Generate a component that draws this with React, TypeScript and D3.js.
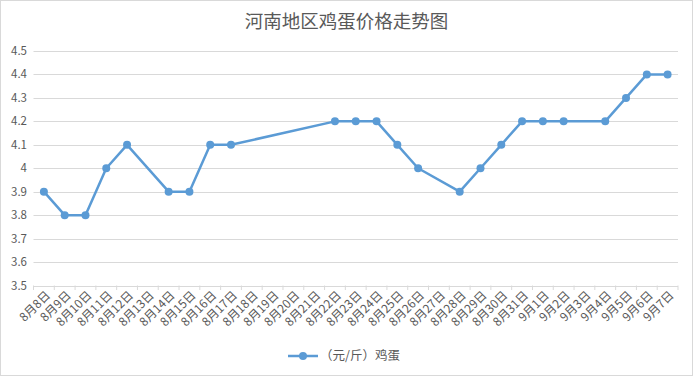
import React from "react";
import * as d3 from "d3";

const categories: string[] = [
  "8月8日","8月9日","8月10日","8月11日","8月12日","8月13日","8月14日","8月15日","8月16日","8月17日",
  "8月18日","8月19日","8月20日","8月21日","8月22日","8月23日","8月24日","8月25日","8月26日","8月27日",
  "8月28日","8月29日","8月30日","8月31日","9月1日","9月2日","9月3日","9月4日","9月5日","9月6日","9月7日",
];
const values: (number | null)[] = [
  3.9, 3.8, 3.8, 4.0, 4.1, null, 3.9, 3.9, 4.1, 4.1,
  null, null, null, null, 4.2, 4.2, 4.2, 4.1, 4.0, null,
  3.9, 4.0, 4.1, 4.2, 4.2, 4.2, null, 4.2, 4.3, 4.4, 4.4,
];
const yTicks: number[] = [3.5, 3.6, 3.7, 3.8, 3.9, 4, 4.1, 4.2, 4.3, 4.4, 4.5];
const title = "河南地区鸡蛋价格走势图";
const seriesName = "（元/斤）鸡蛋";

const W = 693, H = 376;
const FONT = "'Noto Sans CJK SC', 'Microsoft YaHei', sans-serif";
const TEXT = "#595959";
const COLOR = "#5B9BD5";

export default function App() {
  const x = d3.scaleBand<string>().domain(categories).range([33.5, 678]);
  const y = d3.scaleLinear().domain([3.5, 4.5]).range([285.5, 51]);
  const cx = (c: string) => (x(c) ?? 0) + x.bandwidth() / 2;
  const pts = categories
    .map((c, i) => ({ c, v: values[i] }))
    .filter((d) => d.v !== null) as { c: string; v: number }[];
  const line = d3.line<{ c: string; v: number }>().x((d) => cx(d.c)).y((d) => y(d.v));
  const boundaries = [...categories.map((c) => x(c) ?? 0), x.range()[1]];

  return (
    <svg width={W} height={H} style={{ position: "absolute", left: 0, top: 0, fontFamily: FONT }}>
      <rect x={0.5} y={0.5} width={W - 1} height={H - 1} fill="#fff" stroke="#d9d9d9" />
      <text x={W / 2} y={28} textAnchor="middle" fontSize={18.5} fill={TEXT}>{title}</text>
      {yTicks.map((t) => (
        <g key={t}>
          <line x1={33.5} x2={678} y1={Math.round(y(t)) + 0.5} y2={Math.round(y(t)) + 0.5} stroke="#d9d9d9" strokeWidth={1} />
          <text x={27} y={y(t)} dy="0.35em" textAnchor="end" fontSize={11.5} fill={TEXT}>{d3.format("")(t)}</text>
        </g>
      ))}
      {boundaries.map((b, i) => (
        <line key={i} x1={b} x2={b} y1={285.5} y2={290} stroke="#d9d9d9" />
      ))}
      {categories.map((c) => (
        <text key={c} transform={`translate(${cx(c) + 4},${293}) rotate(-45)`} textAnchor="end" dy="0.35em" fontSize={12} fill={TEXT}>{c}</text>
      ))}
      <path d={line(pts) ?? ""} fill="none" stroke={COLOR} strokeWidth={2.5} strokeLinejoin="round" />
      {pts.map((d) => (
        <circle key={d.c} cx={cx(d.c)} cy={y(d.v)} r={4} fill={COLOR} />
      ))}
      <line x1={288} x2={318} y1={356} y2={356} stroke={COLOR} strokeWidth={2.5} />
      <circle cx={303} cy={356} r={4} fill={COLOR} />
      <text x={320} y={356} dy="0.35em" fontSize={12.5} fill={TEXT}>{seriesName}</text>
    </svg>
  );
}
